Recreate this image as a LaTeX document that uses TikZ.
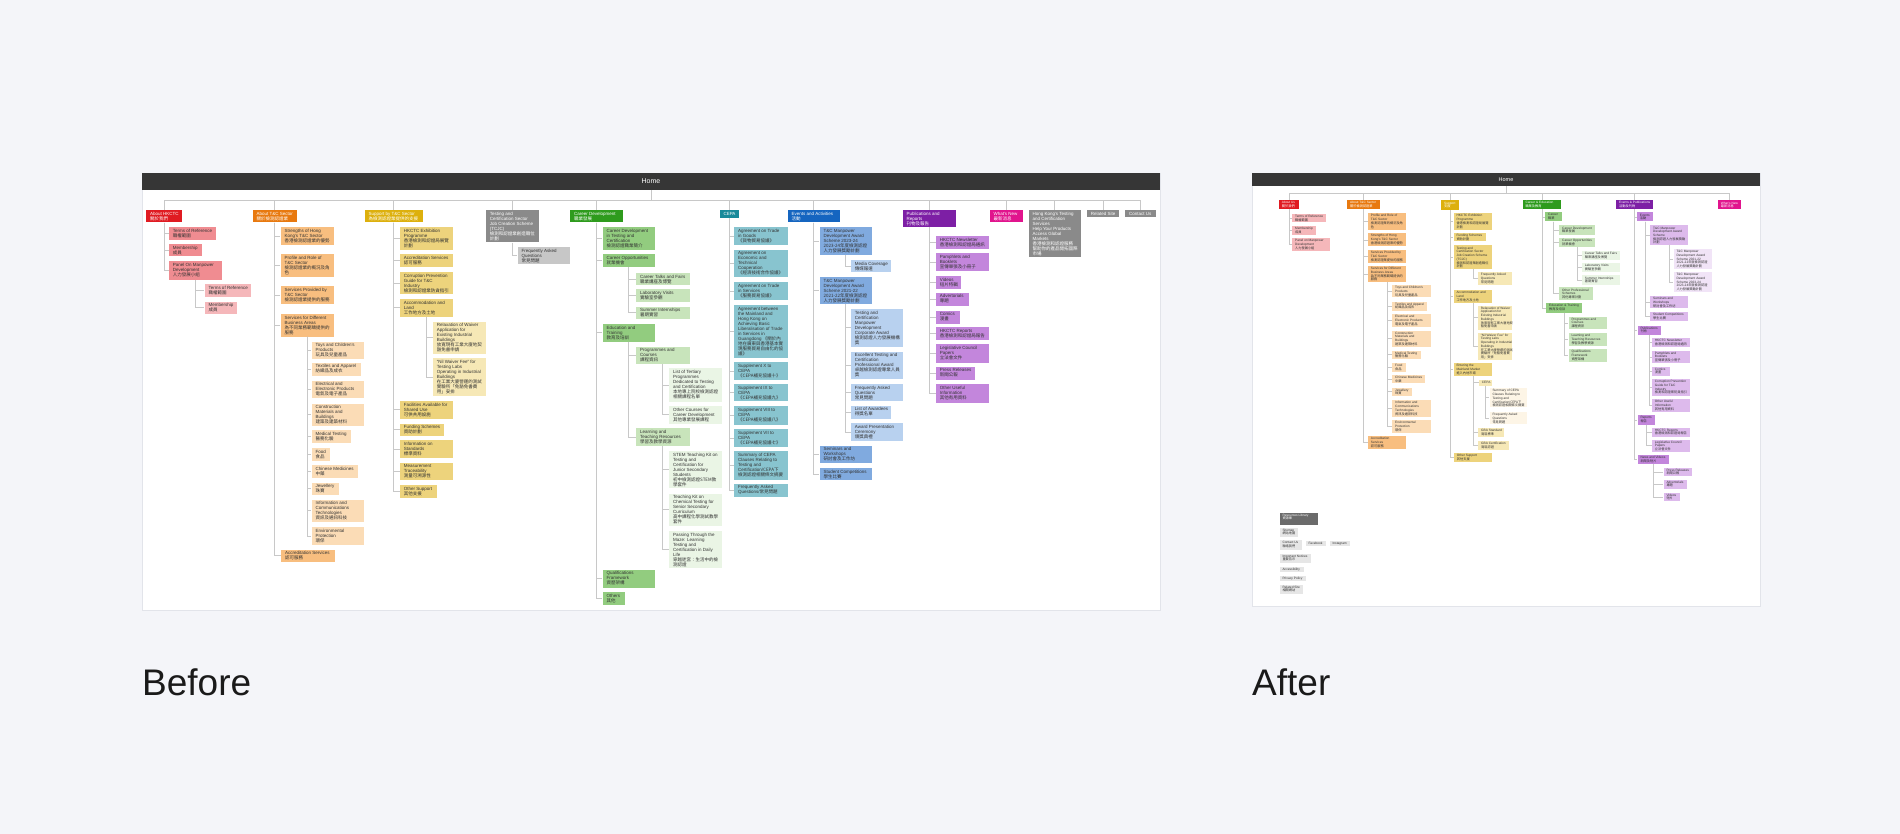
\documentclass[tikz,border=0pt]{standalone}
\usepackage{fontspec}
\setmainfont{Liberation Sans}
\newfontfamily\cjkfont{Noto Sans CJK TC}
\usepackage{tikz}

\definecolor{bgPage}{HTML}{F4F5F9}
\definecolor{panelEdge}{HTML}{E2E4EA}
\definecolor{barGray}{HTML}{363636}
\definecolor{lineGray}{HTML}{C8C8C8}
\definecolor{inkDark}{HTML}{333333}
\definecolor{titleInk}{HTML}{1A1A1A}
\definecolor{hRed}{HTML}{E01B22}
\definecolor{pk1}{HTML}{F08C91}
\definecolor{pk2}{HTML}{F5B7BA}
\definecolor{hOrange}{HTML}{E8790F}
\definecolor{or1}{HTML}{F8BE7F}
\definecolor{or2}{HTML}{FBDCB6}
\definecolor{hGold}{HTML}{DDB00D}
\definecolor{gd1}{HTML}{EDD37C}
\definecolor{gd2}{HTML}{F6E8B6}
\definecolor{gd3}{HTML}{FDF5E6}
\definecolor{hGray}{HTML}{8A8A8A}
\definecolor{gy1}{HTML}{C7C7C7}
\definecolor{gy2}{HTML}{E6E6E6}
\definecolor{gyDark}{HTML}{6B6B6B}
\definecolor{hGreen}{HTML}{2E9B1D}
\definecolor{gn1}{HTML}{92CC7F}
\definecolor{gn2}{HTML}{C8E4BB}
\definecolor{gn3}{HTML}{EAF5E5}
\definecolor{hTeal}{HTML}{1A8A9A}
\definecolor{tl1}{HTML}{88C4CF}
\definecolor{hBlue}{HTML}{1565C0}
\definecolor{bl1}{HTML}{80AADF}
\definecolor{bl2}{HTML}{B8D1EF}
\definecolor{hPurple}{HTML}{7D1FA5}
\definecolor{pp1}{HTML}{C386DC}
\definecolor{pp2}{HTML}{DDBAEC}
\definecolor{pp3}{HTML}{F1E4F7}
\definecolor{hMagenta}{HTML}{E1148D}

\tikzset{
  box/.style={anchor=north west, inner sep=0pt, draw=none},
  tx/.style={anchor=north west, align=left, inner xsep=4pt, inner ysep=2pt,
    font=\fontsize{4.5}{5}\selectfont, text=inkDark},
  txw/.style={tx, text=white},
  txa/.style={anchor=north west, align=left, inner xsep=3pt, inner ysep=1.4pt,
    font=\fontsize{3.2}{3.7}\selectfont, text=inkDark},
  txaw/.style={txa, text=white},
  homebar/.style={fill=barGray, text=white, inner sep=0pt},
  conn/.style={draw=lineGray, line width=0.8pt},
  conna/.style={draw=lineGray, line width=0.55pt},
  title/.style={anchor=base west, inner sep=0pt, text=titleInk,
    font=\fontsize{37}{40}\selectfont}
}

% box with its text set at the top left corner
\newcommand{\bx}[8][tx]{\node[box, fill=#3, minimum width=#6pt, minimum height=#7pt,
  label={[#1]north west:{#8}}] (#2) at (#4,#5) {};}
\newcommand{\zh}[1]{{\cjkfont #1}}

\begin{document}
\begin{tikzpicture}[x=1pt, y=-1pt]

    % --- Page and panels ---
    \fill[bgPage] (0,0) rectangle (1900,834);
    \useasboundingbox (0,0) rectangle (1900,834);
    \draw[panelEdge, fill=white] (142,173) rectangle (1160,610);
    \draw[panelEdge, fill=white] (1252,173) rectangle (1760,606);

    \node[title] (beforeLbl) at (142,695.5) {Before};
    \node[title] (afterLbl) at (1252,695.5) {After};

    % ================= BEFORE =================
    \node[homebar, minimum width=1018pt, minimum height=17pt, font=\fontsize{7}{8}\selectfont] (homeB) at (651,181.5) {Home};
    \coordinate (busB) at (651,200);
    \draw[conn] (homeB.south) -- (busB);

    % --- Top level ---
    \bx[txw]{bHkctc}{hRed}{146}{209.7}{36}{12.6}{About HKCTC\\\zh{關於我們}}
    \bx[txw]{bSector}{hOrange}{252.3}{209.7}{44.7}{12.6}{About T\&C Sector\\\zh{關於檢測認證業}}
    \bx[txw]{bSupport}{hGold}{364.3}{209.7}{58.4}{12.6}{Support by T\&C Sector\\\zh{為檢測認證業提供的支援}}
    \bx[txw]{bTcjc}{hGray}{485.7}{209.7}{52.6}{32.6}{Testing and\\Certification Sector\\Job Creation Scheme\\(TCJC)\\\zh{檢測和認證業創造職位}\\\zh{計劃}}
    \bx[txw]{bCareer}{hGreen}{570}{209.7}{52.3}{12.6}{Career Development\\\zh{職業發展}}
    \bx[txw]{bCepa}{hTeal}{719.3}{209.7}{19.7}{8.3}{CEPA}
    \bx[txw]{bEvents}{hBlue}{787.3}{209.7}{52.7}{12.6}{Events and Activities\\\zh{活動}}
    \bx[txw]{bPub}{hPurple}{902.3}{209.7}{53.4}{17.3}{Publications and\\Reports\\\zh{刊物及報告}}
    \bx[txw]{bNews}{hMagenta}{989.3}{209.7}{33}{12.6}{What's New\\\zh{最新消息}}
    \bx[txw]{bGlobal}{hGray}{1028.3}{209.7}{52.7}{47.6}{Hong Kong's Testing\\and Certification\\Services\\Help Your Products\\Access Global\\Markets\\\zh{香港檢測和認證服務}\\\zh{幫助你的產品開拓國際}\\\zh{市場}}
    \bx[txw]{bRelated}{hGray}{1086.7}{209.7}{32.3}{7.6}{Related Site}
    \bx[txw]{bContact}{hGray}{1125}{209.7}{30.7}{7.6}{Contact Us}

    % --- About HKCTC ---
    \bx{bTor}{pk1}{168.7}{227.3}{46.6}{12.4}{Terms of Reference\\\zh{職權範圍}}
    \bx{bMem}{pk1}{168.7}{244}{33.3}{12.3}{Membership\\\zh{成員}}
    \bx{bPanel}{pk1}{168.7}{261.3}{52.6}{18.4}{Panel On Manpower\\Development\\\zh{人力發展小組}}
    \bx{bPanelTor}{pk2}{204.3}{284}{46.7}{13}{Terms of Reference\\\zh{職權範圍}}
    \bx{bPanelMem}{pk2}{204.3}{301.3}{32.7}{12.4}{Membership\\\zh{成員}}

    % --- About T&C Sector ---
    \bx{bStrength}{or1}{280.3}{227.3}{53.4}{17.4}{Strengths of Hong\\Kong's T\&C Sector\\\zh{香港檢測認證業的優勢}}
    \bx{bProfile}{or1}{280.3}{254}{53.4}{23}{Profile and Role of\\T\&C Sector\\\zh{檢測認證業的概況及角}\\\zh{色}}
    \bx{bProvided}{or1}{280.3}{286.3}{53.4}{17.7}{Services Provided by\\T\&C Sector\\\zh{檢測認證業提供的服務}}
    \bx{bAreas}{or1}{280.3}{313.7}{53.4}{22.6}{Services for Different\\Business Areas\\\zh{為不同業務範疇提供的}\\\zh{服務}}
    \bx{bToys}{or2}{311.3}{341.3}{52.4}{17.4}{Toys and Children's\\Products\\\zh{玩具及兒童產品}}
    \bx{bTextile}{or2}{311.3}{362.3}{49}{13.4}{Textiles and Apparel\\\zh{紡織品及成衣}}
    \bx{bElec}{or2}{311.3}{380.3}{52.4}{17.7}{Electrical and\\Electronic Products\\\zh{電氣及電子產品}}
    \bx{bBuild}{or2}{311.3}{403.3}{52.4}{22}{Construction\\Materials and\\Buildings\\\zh{建築及建築材料}}
    \bx{bMed}{or2}{311.3}{430}{39.7}{12.7}{Medical Testing\\\zh{醫務化驗}}
    \bx{bFood}{or2}{311.3}{447.7}{18.4}{12.6}{Food\\\zh{食品}}
    \bx{bChinMed}{or2}{311.3}{465}{46}{12.3}{Chinese Medicines\\\zh{中藥}}
    \bx{bJewel}{or2}{311.3}{482.3}{27.7}{12.7}{Jewellery\\\zh{珠寶}}
    \bx{bIct}{or2}{311.3}{499.3}{52.4}{22.7}{Information and\\Communications\\Technologies\\\zh{資訊及通訊科技}}
    \bx{bEnv}{or2}{311.3}{526.7}{52.4}{18}{Environmental\\Protection\\\zh{環保}}
    \bx{bAccred}{or1}{281}{549.3}{53.7}{12.4}{Accreditation Services\\\zh{認可服務}}

    % --- Support by T&C Sector ---
    \bx{bExhib}{gd1}{399.7}{227.3}{53}{22.4}{HKCTC Exhibition\\Programme\\\zh{香港檢測和認證局展覽}\\\zh{計劃}}
    \bx{bAccS}{gd1}{399.7}{254}{53}{13}{Accreditation Services\\\zh{認可服務}}
    \bx{bCorrupt}{gd1}{399.7}{272}{53}{22}{Corruption Prevention\\Guide for T\&C\\Industry\\\zh{檢測和認證業防貪指引}}
    \bx{bLand}{gd1}{399.7}{298.7}{53}{17.6}{Accommodation and\\Land\\\zh{工作地方及土地}}
    \bx{bWaiver}{gd2}{432.7}{321.3}{53}{32}{Relaxation of Waiver\\Application for\\Existing Industrial\\Buildings\\\zh{放寬現有工業大廈地契}\\\zh{豁免書申請}}
    \bx{bNilFee}{gd2}{432.7}{358}{53}{37.7}{“Nil Waiver Fee” for\\Testing Labs\\Operating in Industrial\\Buildings\\\zh{在工業大廈營運的測試}\\\zh{實驗所「免豁免書費}\\\zh{用」安排}}
    \bx{bShared}{gd1}{399.7}{401}{53}{17.3}{Facilities Available for\\Shared Use\\\zh{可供共用設施}}
    \bx{bFund}{gd1}{399.7}{423.3}{44}{12.4}{Funding Schemes\\\zh{資助計劃}}
    \bx{bStd}{gd1}{399.7}{440}{53}{17.7}{Information on\\Standards\\\zh{標準資料}}
    \bx{bTrace}{gd1}{399.7}{462.7}{53}{17.3}{Measurement\\Traceability\\\zh{測量可溯源性}}
    \bx{bOther}{gd1}{399.7}{485}{37}{12.7}{Other Support\\\zh{其他支援}}

    % --- TCJC ---
    \bx{bTcjcFaq}{gy1}{517.3}{247}{52.7}{17}{Frequently Asked\\Questions\\\zh{常見問題}}

    % --- Career Development ---
    \bx{bCareerDev}{gn1}{602.3}{227.3}{52.7}{22.4}{Career Development\\in Testing and\\Certification\\\zh{檢測認證職業簡介}}
    \bx{bOpp}{gn1}{602.3}{254}{52.7}{13}{Career Opportunities\\\zh{就業機會}}
    \bx{bTalks}{gn2}{636}{273}{53.3}{11.7}{Career Talks and Fairs\\\zh{職業講座及博覽}}
    \bx{bVisits}{gn2}{636}{289}{53.3}{12.3}{Laboratory Visits\\\zh{實驗室參觀}}
    \bx{bIntern}{gn2}{636}{306.3}{53.3}{12.7}{Summer Internships\\\zh{暑期實習}}
    \bx{bEdu}{gn1}{602.3}{324}{52.7}{17.3}{Education and\\Training\\\zh{教育及培訓}}
    \bx{bProg}{gn2}{636}{346.3}{53.3}{17.4}{Programmes and\\Courses\\\zh{課程資訊}}
    \bx{bTertiary}{gn3}{669}{368}{52.7}{33.7}{List of Tertiary\\Programmes\\Dedicated to Testing\\and Certification\\\zh{本地專上院校檢測認證}\\\zh{相關課程名單}}
    \bx{bOtherCourse}{gn3}{669}{406}{52.7}{17.3}{Other Courses for\\Career Development\\\zh{其他專業發展課程}}
    \bx{bLearn}{gn2}{636}{428}{53.3}{17.7}{Learning and\\Teaching Resources\\\zh{學習及教學資源}}
    \bx{bStem}{gn3}{669}{450.7}{52.7}{37.3}{STEM Teaching Kit on\\Testing and\\Certification for\\Junior Secondary\\Students\\\zh{初中檢測認證STEM教}\\\zh{學套件}}
    \bx{bChemKit}{gn3}{669}{493.3}{52.7}{32.4}{Teaching Kit on\\Chemical Testing for\\Senior Secondary\\Curriculum\\\zh{高中課程化學測試教學}\\\zh{套件}}
    \bx{bMaze}{gn3}{669}{530.7}{52.7}{37}{Passing Through the\\Maze: Learning\\Testing and\\Certification in Daily\\Life\\\zh{穿越迷宮：生活中的檢}\\\zh{測認證}}
    \bx{bQf}{gn1}{602.3}{569.3}{52.7}{18.4}{Qualifications\\Framework\\\zh{資歷架構}}
    \bx{bOthers}{gn1}{602.3}{591.7}{22}{13.3}{Others\\\zh{其他}}

    % --- CEPA ---
    \bx{bGoods}{tl1}{734}{227.3}{53.3}{17.4}{Agreement on Trade\\in Goods\\\zh{《貨物貿易協議》}}
    \bx{bEcon}{tl1}{734}{249.7}{53.3}{27.3}{Agreement on\\Economic and\\Technical\\Cooperation\\\zh{《經濟技術合作協議》}}
    \bx{bServ}{tl1}{734}{282}{53.3}{17.7}{Agreement on Trade\\in Services\\\zh{《服務貿易協議》}}
    \bx{bGd}{tl1}{734}{304.7}{53.3}{52.6}{Agreement between\\the Mainland and\\Hong Kong on\\Achieving Basic\\Liberalisation of Trade\\in Services in\\Guangdong \zh{《關於內}\\\zh{地在廣東與香港基本實}\\\zh{現服務貿易自由化的協}\\\zh{議》}}
    \bx{bSup10}{tl1}{734}{362}{53.3}{17.7}{Supplement X to\\CEPA\\\zh{《CEPA補充協議十》}}
    \bx{bSup9}{tl1}{734}{384}{53.3}{16.7}{Supplement IX to\\CEPA\\\zh{《CEPA補充協議九》}}
    \bx{bSup8}{tl1}{734}{406}{53.3}{18.3}{Supplement VIII to\\CEPA\\\zh{《CEPA補充協議八》}}
    \bx{bSup7}{tl1}{734}{428.7}{53.3}{18}{Supplement VII to\\CEPA\\\zh{《CEPA補充協議七》}}
    \bx{bClauses}{tl1}{734}{451}{53.3}{28.3}{Summary of CEPA\\Clauses Relating to\\Testing and\\Certification/\zh{CEPA下}\\\zh{檢測認證相關條文摘要}}
    \bx{bCepaFaq}{tl1}{734}{483.3}{53.3}{13.4}{Frequently Asked\\Questions/\zh{常見問題}}

    % --- Events and Activities ---
    \bx{bAward24}{bl1}{819.3}{227.3}{52.4}{27.4}{T\&C Manpower\\Development Award\\Scheme 2023-24\\\zh{2023-24年度檢測認證}\\\zh{人力發展獎勵計劃}}
    \bx{bMedia}{bl2}{850.7}{259.7}{40.3}{12.3}{Media Coverage\\\zh{傳媒報道}}
    \bx{bAward22}{bl1}{819.3}{276.7}{52.4}{27.3}{T\&C Manpower\\Development Award\\Scheme 2021-22\\\zh{2021-22年度檢測認證}\\\zh{人力發展獎勵計劃}}
    \bx{bCorpAward}{bl2}{850.7}{309}{52}{37.3}{Testing and\\Certification\\Manpower\\Development\\Corporate Award\\\zh{檢測認證人力發展機構}\\\zh{獎}}
    \bx{bProfAward}{bl2}{850.7}{351.3}{52}{27.4}{Excellent Testing and\\Certification\\Professional Award\\\zh{卓越檢測認證專業人員}\\\zh{獎}}
    \bx{bAwardFaq}{bl2}{850.7}{383.7}{52}{17}{Frequently Asked\\Questions\\\zh{常見問題}}
    \bx{bAwardees}{bl2}{850.7}{405.3}{40.3}{13}{List of Awardees\\\zh{得獎名單}}
    \bx{bCeremony}{bl2}{850.7}{422.7}{52}{18}{Award Presentation\\Ceremony\\\zh{頒獎典禮}}
    \bx{bSeminar}{bl1}{819.3}{445.3}{52.4}{17.4}{Seminars and\\Workshops\\\zh{研討會及工作坊}}
    \bx{bStudent}{bl1}{819.3}{467.7}{52.4}{12.3}{Student Competitions\\\zh{學生比賽}}

    % --- Publications and Reports ---
    \bx{bNewsletter}{pp1}{935.7}{235.7}{52.6}{13}{HKCTC Newsletter\\\zh{香港檢測和認證局通訊}}
    \bx{bPamph}{pp1}{935.7}{253}{52.6}{17.7}{Pamphlets and\\Booklets\\\zh{宣傳單張及小冊子}}
    \bx{bVideos}{pp1}{935.7}{275.7}{25.3}{13}{Videos\\\zh{短片特輯}}
    \bx{bAdv}{pp1}{935.7}{292.3}{32.6}{13}{Advertorials\\\zh{專題}}
    \bx{bComics}{pp1}{935.7}{310.3}{23.6}{13.4}{Comics\\\zh{漫畫}}
    \bx{bReports}{pp1}{935.7}{327}{52.6}{12.7}{HKCTC Reports\\\zh{香港檢測和認證局報告}}
    \bx{bLegco}{pp1}{935.7}{344}{52.6}{18.3}{Legislative Council\\Papers\\\zh{立法會文件}}
    \bx{bPress}{pp1}{935.7}{366.3}{39}{13.4}{Press Releases\\\zh{新聞公報}}
    \bx{bUseful}{pp1}{935.7}{383.7}{52.6}{18.6}{Other Useful\\Information\\\zh{其他有用資料}}

    % --- Before connectors ---
    \foreach \n in {bHkctc,bSector,bSupport,bTcjc,bCareer,bCepa,bEvents,bPub,bNews,bGlobal,bRelated,bContact}
        \draw[conn] (busB) -| (\n.north);
    \foreach \n in {bTor,bMem,bPanel} \draw[conn] (bHkctc.south) |- (\n.west);
    \foreach \n in {bPanelTor,bPanelMem} \draw[conn] (bPanel.south) |- (\n.west);
    \foreach \n in {bStrength,bProfile,bProvided,bAreas,bAccred} \draw[conn] (bSector.south) |- (\n.west);
    \foreach \n in {bToys,bTextile,bElec,bBuild,bMed,bFood,bChinMed,bJewel,bIct,bEnv}
        \draw[conn] (bAreas.south) |- (\n.west);
    \foreach \n in {bExhib,bAccS,bCorrupt,bLand,bShared,bFund,bStd,bTrace,bOther}
        \draw[conn] (bSupport.south) |- (\n.west);
    \foreach \n in {bWaiver,bNilFee} \draw[conn] (bLand.south) |- (\n.west);
    \draw[conn] (bTcjc.south) |- (bTcjcFaq.west);
    \foreach \n in {bCareerDev,bOpp,bEdu,bQf,bOthers} \draw[conn] (bCareer.south) |- (\n.west);
    \foreach \n in {bTalks,bVisits,bIntern} \draw[conn] (bOpp.south) |- (\n.west);
    \foreach \n in {bProg,bLearn} \draw[conn] (bEdu.south) |- (\n.west);
    \foreach \n in {bTertiary,bOtherCourse} \draw[conn] (bProg.south) |- (\n.west);
    \foreach \n in {bStem,bChemKit,bMaze} \draw[conn] (bLearn.south) |- (\n.west);
    \foreach \n in {bGoods,bEcon,bServ,bGd,bSup10,bSup9,bSup8,bSup7,bClauses,bCepaFaq}
        \draw[conn] (bCepa.south) |- (\n.west);
    \foreach \n in {bAward24,bAward22,bSeminar,bStudent} \draw[conn] (bEvents.south) |- (\n.west);
    \draw[conn] (bAward24.south) |- (bMedia.west);
    \foreach \n in {bCorpAward,bProfAward,bAwardFaq,bAwardees,bCeremony} \draw[conn] (bAward22.south) |- (\n.west);
    \foreach \n in {bNewsletter,bPamph,bVideos,bAdv,bComics,bReports,bLegco,bPress,bUseful}
        \draw[conn] (bPub.south) |- (\n.west);

    % ================= AFTER =================
    \node[homebar, minimum width=508pt, minimum height=13pt, font=\fontsize{5.5}{6}\selectfont] (homeA) at (1506,179.5) {Home};
    \coordinate (busA) at (1506,193);
    \draw[conna] (homeA.south) -- (busA);

    % --- Top level ---
    \bx[txaw]{aAbout}{hRed}{1278.7}{199.7}{20}{9}{About Us\\\zh{關於我們}}
    \bx[txaw]{aSector}{hOrange}{1347}{199.7}{32.7}{9}{About T\&C Sector\\\zh{關於檢測認證業}}
    \bx[txaw]{aSupport}{hGold}{1441}{200.3}{17.7}{9.4}{Support\\\zh{支援}}
    \bx[txaw]{aCareer}{hGreen}{1522.3}{199.7}{38.7}{9}{Career \& Education\\\zh{職業及教育}}
    \bx[txaw]{aEvents}{hPurple}{1616}{199.7}{36.3}{9}{Events \& Publications\\\zh{活動及刊物}}
    \bx[txaw]{aNews}{hMagenta}{1717.7}{200.3}{23}{8.7}{What's New\\\zh{最新消息}}

    % --- About Us ---
    \bx[txa]{aTor}{pk2}{1292}{213.7}{34}{8.6}{Terms of Reference\\\zh{職權範圍}}
    \bx[txa]{aMem}{pk2}{1292}{225.7}{23.3}{9}{Membership\\\zh{成員}}
    \bx[txa]{aPanel}{pk2}{1292}{238}{37.7}{12.7}{Panel on Manpower\\Development\\\zh{人力發展小組}}

    % --- About T&C Sector ---
    \bx[txa]{aProfile}{or1}{1367.7}{213}{38.3}{16.7}{Profile and Role of\\T\&C Sector\\\zh{檢測認證業的概況及角}\\\zh{色}}
    \bx[txa]{aStrength}{or1}{1367.7}{233}{38.3}{13.3}{Strengths of Hong\\Kong's T\&C Sector\\\zh{香港檢測認證業的優勢}}
    \bx[txa]{aProvided}{or1}{1367.7}{249.7}{38.3}{13.3}{Services Provided by\\T\&C Sector\\\zh{檢測認證業提供的服務}}
    \bx[txa]{aAreas}{or1}{1367.7}{265.7}{38.3}{16.3}{Services for Different\\Business Areas\\\zh{為不同業務範疇提供的}\\\zh{服務}}
    \bx[txa]{aToys}{or2}{1392}{285}{38.3}{12}{Toys and Children's\\Products\\\zh{玩具及兒童產品}}
    \bx[txa]{aTextile}{or2}{1392}{301.3}{35}{9}{Textiles and Apparel\\\zh{紡織品及成衣}}
    \bx[txa]{aElec}{or2}{1392}{314}{38.3}{12.3}{Electrical and\\Electronic Products\\\zh{電氣及電子產品}}
    \bx[txa]{aBuild}{or2}{1392}{330.3}{38.3}{16}{Construction\\Materials and\\Buildings\\\zh{建築及建築材料}}
    \bx[txa]{aMed}{or2}{1392}{350.3}{28.7}{8.4}{Medical Testing\\\zh{醫務化驗}}
    \bx[txa]{aFood}{or2}{1392}{363}{13.3}{8.3}{Food\\\zh{食品}}
    \bx[txa]{aChinMed}{or2}{1392}{374.7}{33}{8.3}{Chinese Medicines\\\zh{中藥}}
    \bx[txa]{aJewel}{or2}{1392}{387.3}{20}{8.4}{Jewellery\\\zh{珠寶}}
    \bx[txa]{aIct}{or2}{1392}{400}{38.3}{16.3}{Information and\\Communications\\Technologies\\\zh{資訊及通訊科技}}
    \bx[txa]{aEnv}{or2}{1392}{419.7}{38.3}{12.6}{Environmental\\Protection\\\zh{環保}}
    \bx[txa]{aAccred}{or1}{1367.7}{436}{38.3}{12.3}{Accreditation\\Services\\\zh{認可服務}}

    % --- Support ---
    \bx[txa]{aExhib}{gd1}{1453.3}{213}{38.7}{16.7}{HKCTC Exhibition\\Programme\\\zh{香港檢測和認證局展覽}\\\zh{計劃}}
    \bx[txa]{aFund}{gd1}{1453.3}{233}{32}{8.3}{Funding Schemes\\\zh{資助計劃}}
    \bx[txa]{aTcjc}{gd1}{1453.3}{245.3}{38.7}{23.4}{Testing and\\Certification Sector\\Job Creation Scheme\\(TCJC)\\\zh{檢測和認證業創造職位}\\\zh{計劃}}
    \bx[txa]{aTcjcFaq}{gd2}{1477.7}{272}{34.3}{12.7}{Frequently Asked\\Questions\\\zh{常見問題}}
    \bx[txa]{aLand}{gd1}{1453.3}{289.7}{38.7}{12.6}{Accommodation and\\Land\\\zh{工作地方及土地}}
    \bx[txa]{aWaiver}{gd2}{1477.7}{305.3}{34.3}{24.4}{Relaxation of Waiver\\Application for\\Existing Industrial\\Buildings\\\zh{放寬現有工業大廈地契}\\\zh{豁免書申請}}
    \bx[txa]{aNilFee}{gd2}{1477.7}{332.3}{34.3}{27.4}{“Nil Waiver Fee” for\\Testing Labs\\Operating in Industrial\\Buildings\\\zh{在工業大廈營運的測試}\\\zh{實驗所「免豁免書費}\\\zh{用」安排}}
    \bx[txa]{aMainland}{gd1}{1453.3}{363}{38.7}{12.7}{Entering the\\Mainland Market\\\zh{進入內地市場}}
    \bx[txa]{aCepa}{gd2}{1478.7}{379.7}{12.6}{5.6}{CEPA}
    \bx[txa]{aClauses}{gd3}{1489.3}{388}{37.4}{18.7}{Summary of CEPA\\Clauses Relating to\\Testing and\\Certification/\zh{CEPA下}\\\zh{檢測認證相關條文摘要}}
    \bx[txa]{aCepaFaq}{gd3}{1489.3}{411.7}{37.4}{12.3}{Frequently Asked\\Questions\\\zh{常見問題}}
    \bx[txa]{aGbaStd}{gd2}{1478}{427.7}{25.7}{9}{GBA Standard\\\zh{灣區標準}}
    \bx[txa]{aGbaCert}{gd2}{1478}{440.7}{30.7}{8.6}{GBA Certification\\\zh{灣區認證}}
    \bx[txa]{aOther}{gd1}{1453.7}{452.7}{37.6}{9}{Other Support\\\zh{其他支援}}

    % --- Career & Education ---
    \bx[txa]{aCareerSub}{gn1}{1545}{212}{16.7}{9.3}{Career\\\zh{職業}}
    \bx[txa]{aCareerDev}{gn2}{1559}{225.3}{36}{9.4}{Career Development\\\zh{職業發展}}
    \bx[txa]{aOpp}{gn2}{1559}{238}{36}{9}{Career Opportunities\\\zh{就業機會}}
    \bx[txa]{aTalks}{gn3}{1581.7}{250.7}{37.6}{9}{Career Talks and Fairs\\\zh{職業講座及博覽}}
    \bx[txa]{aVisits}{gn3}{1581.7}{263}{37.6}{9}{Laboratory Visits\\\zh{實驗室參觀}}
    \bx[txa]{aIntern}{gn3}{1581.7}{275.3}{37.6}{9.4}{Summer Internships\\\zh{暑期實習}}
    \bx[txa]{aProfSchemes}{gn2}{1559}{287.3}{33.3}{12.4}{Other Professional\\Schemes\\\zh{其他專業計劃}}
    \bx[txa]{aEdu}{gn1}{1546}{303}{35.7}{9.3}{Education \& Training\\\zh{教育及培訓}}
    \bx[txa]{aProg}{gn2}{1568.3}{316.3}{38.4}{12.7}{Programmes and\\Courses\\\zh{課程資訊}}
    \bx[txa]{aLearn}{gn2}{1568.3}{333}{38.4}{12.7}{Learning and\\Teaching Resources\\\zh{學習及教學資源}}
    \bx[txa]{aQf}{gn2}{1568.3}{349}{38.4}{12.3}{Qualifications\\Framework\\\zh{資歷架構}}

    % --- Events & Publications ---
    \bx[txa]{aEv}{pp1}{1636.7}{212.3}{16}{9}{Events\\\zh{活動}}
    \bx[txa]{aAward}{pp2}{1650}{225.3}{37.7}{19.4}{T\&C Manpower\\Development Award\\Scheme\\\zh{檢測認證人力發展獎勵}\\\zh{計劃}}
    \bx[txa]{aAward22}{pp3}{1673.3}{249}{38.4}{19.7}{T\&C Manpower\\Development Award\\Scheme 2021-22\\\zh{2021-22年度檢測認證}\\\zh{人力發展獎勵計劃}}
    \bx[txa]{aAward24}{pp3}{1673.3}{272}{38.4}{20}{T\&C Manpower\\Development Award\\Scheme 2023-24\\\zh{2023-24年度檢測認證}\\\zh{人力發展獎勵計劃}}
    \bx[txa]{aSeminar}{pp2}{1650}{295.7}{37.7}{12.3}{Seminars and\\Workshops\\\zh{研討會及工作坊}}
    \bx[txa]{aStudent}{pp2}{1650}{312}{37.7}{8.7}{Student Competitions\\\zh{學生比賽}}
    \bx[txa]{aPubs}{pp1}{1637.3}{325.3}{23.7}{9.4}{Publications\\\zh{刊物}}
    \bx[txa]{aNewsletter}{pp2}{1651.7}{338}{38.3}{8.3}{HKCTC Newsletter\\\zh{香港檢測和認證局通訊}}
    \bx[txa]{aPamph}{pp2}{1651.7}{350.3}{38.3}{12.7}{Pamphlets and\\Booklets\\\zh{宣傳單張及小冊子}}
    \bx[txa]{aComics}{pp2}{1651.7}{366.3}{17.6}{9}{Comics\\\zh{漫畫}}
    \bx[txa]{aCorrupt}{pp2}{1651.7}{378.7}{38.3}{17}{Corruption Prevention\\Guide for T\&C\\Industry\\\zh{檢測和認證業防貪指引}}
    \bx[txa]{aUseful}{pp2}{1651.7}{399}{38.3}{12.3}{Other Useful\\Information\\\zh{其他有用資料}}
    \bx[txa]{aReports}{pp1}{1637.3}{415}{17.7}{9.3}{Reports\\\zh{報告}}
    \bx[txa]{aHkctcRep}{pp2}{1651.7}{427.3}{37.6}{9.4}{HKCTC Reports\\\zh{香港檢測和認證局報告}}
    \bx[txa]{aLegco}{pp2}{1651.7}{439.3}{37.6}{12.4}{Legislative Council\\Papers\\\zh{立法會文件}}
    \bx[txa]{aNewsVid}{pp1}{1637.3}{455}{31.7}{9}{News and Videos\\\zh{新聞及短片}}
    \bx[txa]{aPress}{pp2}{1663.3}{467.3}{28.4}{8.7}{Press Releases\\\zh{新聞公報}}
    \bx[txa]{aAdv}{pp2}{1663.3}{479.3}{23.4}{9.7}{Advertorials\\\zh{專題}}
    \bx[txa]{aVideos}{pp2}{1663.3}{492.3}{16}{8.7}{Videos\\\zh{短片}}

    % --- Footer links ---
    \bx[txaw]{aLibrary}{gyDark}{1279.3}{512.3}{38.4}{12}{Resources Library\\\zh{資源庫}}
    \bx[txa]{aSitemap}{gy2}{1279.3}{527.3}{18}{9.4}{Sitemap\\\zh{網站地圖}}
    \bx[txa]{aContact}{gy2}{1279.3}{540}{22}{10}{Contact Us\\\zh{聯絡我們}}
    \bx[txa]{aFacebook}{gy2}{1305.3}{540.7}{20.7}{5}{Facebook}
    \bx[txa]{aInstagram}{gy2}{1329.3}{540.7}{20.4}{5}{Instagram}
    \bx[txa]{aNotices}{gy2}{1279.3}{553.3}{31.7}{9.4}{Important Notices\\\zh{重要告示}}
    \bx[txa]{aAccess}{gy2}{1279.3}{566.7}{24.4}{5}{Accessibility}
    \bx[txa]{aPrivacy}{gy2}{1279.3}{576}{26}{5}{Privacy Policy}
    \bx[txa]{aRelated}{gy2}{1279.3}{584.3}{23.4}{9}{Related Site\\\zh{相關網站}}

    % --- After connectors ---
    \foreach \n in {aAbout,aSector,aSupport,aCareer,aEvents,aNews} \draw[conna] (busA) -| (\n.north);
    \foreach \n in {aTor,aMem,aPanel} \draw[conna] (aAbout.south) |- (\n.west);
    \foreach \n in {aProfile,aStrength,aProvided,aAreas,aAccred} \draw[conna] (aSector.south) |- (\n.west);
    \foreach \n in {aToys,aTextile,aElec,aBuild,aMed,aFood,aChinMed,aJewel,aIct,aEnv}
        \draw[conna] (aAreas.south) |- (\n.west);
    \foreach \n in {aExhib,aFund,aTcjc,aLand,aMainland,aOther} \draw[conna] (aSupport.south) |- (\n.west);
    \draw[conna] (aTcjc.south) |- (aTcjcFaq.west);
    \foreach \n in {aWaiver,aNilFee} \draw[conna] (aLand.south) |- (\n.west);
    \foreach \n in {aCepa,aGbaStd,aGbaCert} \draw[conna] (aMainland.south) |- (\n.west);
    \foreach \n in {aClauses,aCepaFaq} \draw[conna] (aCepa.south) |- (\n.west);
    \foreach \n in {aCareerSub,aEdu} \draw[conna] (aCareer.south) |- (\n.west);
    \foreach \n in {aCareerDev,aOpp,aProfSchemes} \draw[conna] (aCareerSub.south) |- (\n.west);
    \foreach \n in {aTalks,aVisits,aIntern} \draw[conna] (aOpp.south) |- (\n.west);
    \foreach \n in {aProg,aLearn,aQf} \draw[conna] (aEdu.south) |- (\n.west);
    \foreach \n in {aEv,aPubs,aReports,aNewsVid} \draw[conna] (aEvents.south) |- (\n.west);
    \foreach \n in {aAward,aSeminar,aStudent} \draw[conna] (aEv.south) |- (\n.west);
    \foreach \n in {aAward22,aAward24} \draw[conna] (aAward.south) |- (\n.west);
    \foreach \n in {aNewsletter,aPamph,aComics,aCorrupt,aUseful} \draw[conna] (aPubs.south) |- (\n.west);
    \foreach \n in {aHkctcRep,aLegco} \draw[conna] (aReports.south) |- (\n.west);
    \foreach \n in {aPress,aAdv,aVideos} \draw[conna] (aNewsVid.south) |- (\n.west);

\end{tikzpicture}
\end{document}
